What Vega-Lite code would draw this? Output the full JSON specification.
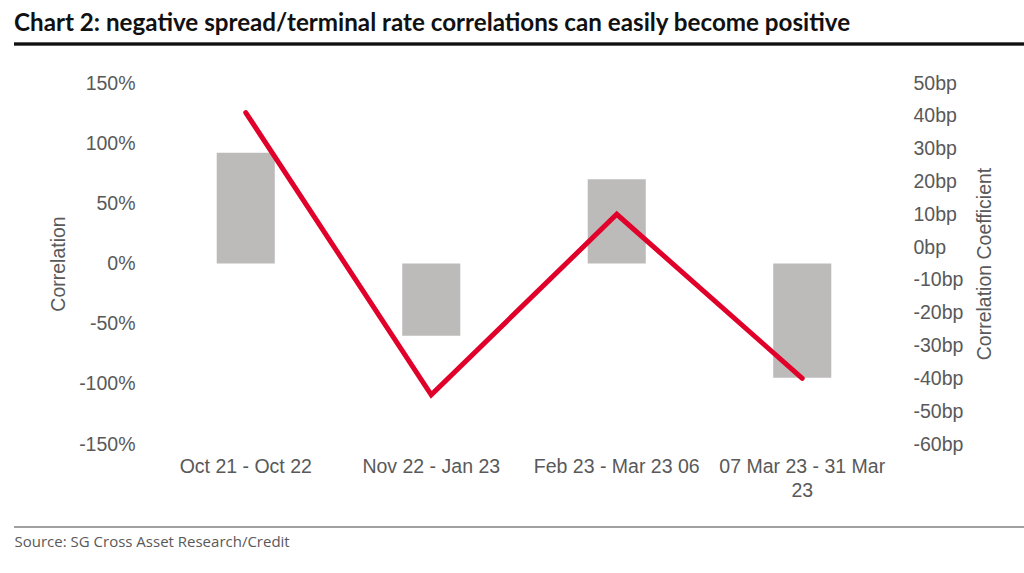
{
  "$schema": "https://vega.github.io/schema/vega-lite/v6.json",
  "width": 742,
  "height": 361,
  "autosize": {"type": "none"},
  "padding": {"left": 153, "top": 83, "right": 129, "bottom": 129},
  "background": "white",
  "config": {
    "view": {"stroke": null},
    "axis": {"labelFont": "Liberation Sans", "labelFontSize": 19.5, "labelColor": "#595959", "titleFont": "Liberation Sans", "titleFontSize": 19.5, "titleColor": "#595959", "titleFontWeight": "normal", "grid": false, "domain": false, "ticks": false}
  },
  "title": {
    "text": "Chart 2: negative spread/terminal rate correlations can easily become positive",
    "font": "Lato",
    "fontSize": 24.2,
    "fontWeight": "bold",
    "color": "#111111",
    "anchor": "start",
    "frame": "group",
    "dx": -139,
    "offset": 7
  },
  "data": {
    "values": [
      {"period": "Oct 21 - Oct 22", "correlation": 0.92, "coefficient": 41},
      {"period": "Nov 22 - Jan 23", "correlation": -0.60, "coefficient": -45},
      {"period": "Feb 23 - Mar 23 06", "correlation": 0.70, "coefficient": 10},
      {"period": "07 Mar 23 - 31 Mar 23", "correlation": -0.95, "coefficient": -40}
    ]
  },
  "encoding": {
    "x": {
      "field": "period",
      "type": "nominal",
      "sort": null,
      "scale": {"paddingInner": 0.687, "paddingOuter": 0.3435},
      "axis": {
        "labelAngle": 0,
        "labelPadding": 13,
        "labelExpr": "datum.value == '07 Mar 23 - 31 Mar 23' ? ['07 Mar 23 - 31 Mar', '23'] : datum.value",
        "labelLineHeight": 24,
        "title": "Source: SG Cross Asset Research/Credit",
        "titleFont": "Open Sans",
        "titleFontSize": 15,
        "titleColor": "#595959",
        "titleAnchor": "start",
        "titleAlign": "left",
        "titleBaseline": "middle",
        "titleX": -139,
        "titleY": 97
      }
    }
  },
  "layer": [
    {
      "encoding": {
        "y": {
          "field": "correlation",
          "type": "quantitative",
          "scale": {"domain": [-1.5, 1.5], "nice": false, "zero": false},
          "axis": {"orient": "left", "values": [-1.5, -1, -0.5, 0, 0.5, 1, 1.5], "labelExpr": "round(datum.value * 100) + '%'", "labelPadding": 18, "title": "Correlation", "titlePadding": 10}
        }
      },
      "layer": [
        {"mark": {"type": "rule", "color": "#d9d9d9", "strokeWidth": 1.5}, "encoding": {"y": {"datum": 0}}},
        {"mark": {"type": "bar", "color": "#bdbaba"}}
      ]
    },
    {
      "mark": {"type": "line", "color": "#e0002a", "strokeWidth": 5, "strokeCap": "round", "strokeJoin": "miter"},
      "encoding": {
        "x": {"field": "period", "type": "nominal", "sort": null, "bandPosition": 0.5},
        "y": {
          "field": "coefficient",
          "type": "quantitative",
          "scale": {"domain": [-60, 50], "nice": false, "zero": false},
          "axis": {"orient": "right", "values": [-60, -50, -40, -30, -20, -10, 0, 10, 20, 30, 40, 50], "labelExpr": "datum.value + 'bp'", "labelPadding": 18, "title": "Correlation Coefficient", "titleAngle": 270, "titleBaseline": "top", "titlePadding": 13}
        }
      }
    },
    {
      "mark": {"type": "rule", "color": "#111111", "strokeWidth": 2.5},
      "encoding": {"x": {"value": -139}, "x2": {"value": 871}, "y": {"value": -39}}
    },
    {
      "mark": {"type": "rule", "color": "#9a9a9a", "strokeWidth": 1},
      "encoding": {"x": {"value": -139}, "x2": {"value": 871}, "y": {"value": 444}}
    }
  ],
  "resolve": {"scale": {"y": "independent"}}
}
